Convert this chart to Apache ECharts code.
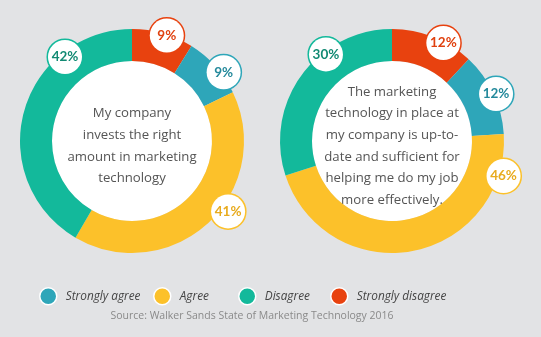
<!DOCTYPE html>
<html>
<head>
<meta charset="utf-8">
<script src="https://cdn.jsdelivr.net/npm/echarts@6/dist/echarts.min.js"></script>
<style>
html,body{margin:0;padding:0;background:#e2e3e5;}
#c{width:541px;height:337px;}
</style>
</head>
<body>
<div id="c"></div>
<script>
// Data
const categories = ['Strongly disagree', 'Strongly agree', 'Agree', 'Disagree'];
const leftValues = [9, 9, 41, 42];
const rightValues = [12, 12, 46, 30];
const leftQuestion = 'My company\ninvests the right\namount in marketing\ntechnology';
const rightQuestion = 'The marketing\ntechnology in place at\nmy company is up-to-\ndate and sufficient for\nhelping me do my job\nmore effectively.';
const legendOrder = ['Strongly agree', 'Agree', 'Disagree', 'Strongly disagree'];
const sourceText = 'Source: Walker Sands State of Marketing Technology 2016';

// Styles
const colors = {
  'Strongly disagree': '#e8420f',
  'Strongly agree': '#2ea6b9',
  'Agree': '#fcc12a',
  'Disagree': '#13b99b'
};
const textColors = {
  'Strongly disagree': '#e0410f',
  'Strongly agree': '#24899b',
  'Agree': '#e8ab1e',
  'Disagree': '#128a73'
};
const leftOffsets = [[3, 5], [6, 8], [18, -14], [44, -54]];
const rightOffsets = [[9, 9], [0, 2], [90, -78], [27, -19]];

function ring(values, center) {
  return {
    type: 'pie',
    center: center,
    radius: [80, 112],
    startAngle: 90,
    clockwise: true,
    silent: true,
    avoidLabelOverlap: false,
    labelLine: { show: false },
    label: { show: false },
    data: categories.map((n, i) => ({
      name: n,
      value: values[i],
      itemStyle: { color: colors[n] }
    }))
  };
}

function labelRing(values, center, offsets) {
  return {
    type: 'pie',
    center: center,
    radius: [111, 113],
    startAngle: 90,
    clockwise: true,
    silent: true,
    z: 5,
    avoidLabelOverlap: false,
    labelLine: { show: false },
    legendHoverLink: false,
    data: categories.map((n, i) => ({
      name: n + ' ',
      value: values[i],
      itemStyle: { color: 'rgba(0,0,0,0)' },
      label: {
        show: true,
        position: 'inside',
        formatter: values[i] + '%',
        offset: offsets[i],
        color: textColors[n],
        fontFamily: 'Lato',
        fontWeight: 'bold',
        fontSize: 13.5,
        backgroundColor: '#fff',
        borderColor: colors[n],
        borderWidth: 1.5,
        borderRadius: 17.5,
        width: 34,
        height: 34,
        lineHeight: 34,
        align: 'center',
        verticalAlign: 'middle'
      }
    }))
  };
}

function inner(text, center) {
  return {
    type: 'pie',
    center: center,
    radius: [0, 80],
    silent: true,
    z: 1,
    data: [{ name: 'q', value: 1, itemStyle: { color: '#fff' } }],
    label: {
      show: true,
      position: 'center',
      formatter: text,
      color: '#555555',
      fontFamily: 'Open Sans',
      fontSize: 13.2,
      lineHeight: 21.6,
      align: 'center',
      overflow: 'none',
      width: 160,
      offset: [0, 5]
    },
    labelLine: { show: false }
  };
}

const legendLefts = [39, 153, 238, 330];
const legends = legendOrder.map((n, i) => ({
  data: [n],
  left: legendLefts[i],
  top: 287,
  padding: 0,
  icon: 'circle',
  itemWidth: 17,
  itemHeight: 17,
  selectedMode: false,
  itemStyle: { borderColor: '#ffffff', borderWidth: 1.5 },
  textStyle: {
    color: '#444',
    fontFamily: 'Open Sans',
    fontStyle: 'italic',
    fontSize: 11.8,
    padding: [0, 0, 0, 4]
  }
}));

const chart = echarts.init(document.getElementById('c'));
chart.setOption({
  backgroundColor: '#e2e3e5',
  animation: false,
  title: {
    text: sourceText,
    left: 252,
    top: 311,
    padding: 0,
    textAlign: 'center',
    textStyle: { color: '#8a8a8a', fontFamily: 'Open Sans', fontSize: 10.5, fontWeight: 'normal' }
  },
  legend: legends,
  series: [
    inner(leftQuestion, [132, 141]),
    inner(rightQuestion, [392, 141]),
    ring(leftValues, [132, 141]),
    ring(rightValues, [392, 141]),
    labelRing(leftValues, [132, 141], leftOffsets),
    labelRing(rightValues, [392, 141], rightOffsets)
  ]
});
</script>
</body>
</html>
